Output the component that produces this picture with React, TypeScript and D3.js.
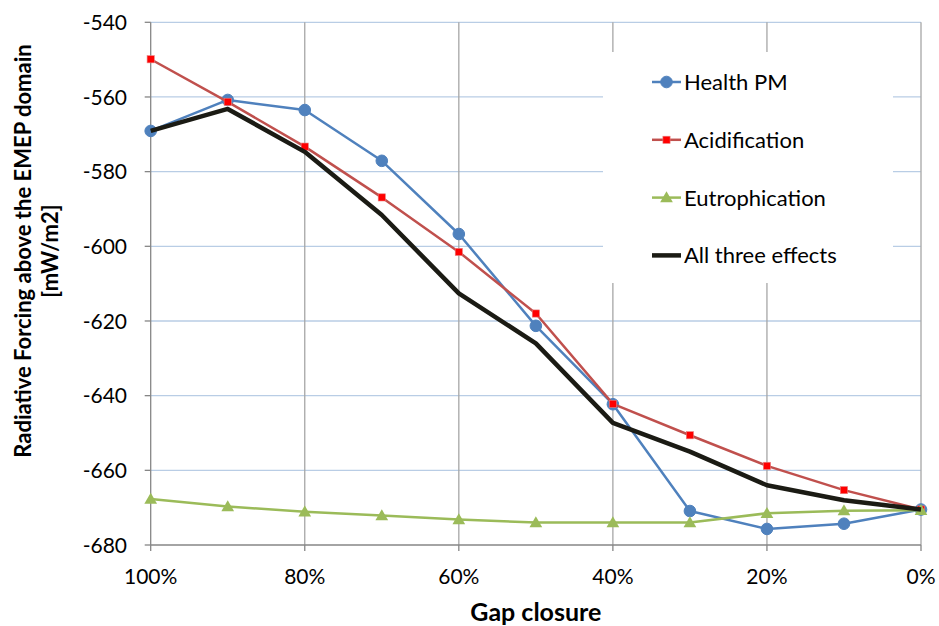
import { useEffect, useRef } from 'react';
import * as d3 from 'd3';

const gapClosure = [100, 90, 80, 70, 60, 50, 40, 30, 20, 10, 0];
const xTicks = [100, 80, 60, 40, 20, 0];
const yTicks = [-540, -560, -580, -600, -620, -640, -660, -680];

const healthPM = [-569.1, -560.8, -563.5, -577.1, -596.7, -621.3, -642.3, -670.9, -675.7, -674.3, -670.5];
const acidification = [-549.9, -561.3, -573.3, -586.9, -601.5, -618.0, -642.2, -650.6, -658.8, -665.3, -670.5];
const eutrophication = [-667.7, -669.7, -671.1, -672.1, -673.2, -674.0, -674.0, -674.0, -671.5, -670.8, -670.7];
const allThree = [-569.1, -563.2, -574.7, -591.6, -612.6, -626.0, -647.3, -655.0, -664.0, -668.0, -670.5];

const FONT = 'Lato, "Open Sans", sans-serif';

type Series = {
  name: string;
  values: number[];
  line: string;
  width: number;
  marker: 'circle' | 'square' | 'triangle' | 'none';
  markerFill: string;
};

const series: Series[] = [
  { name: 'Health PM', values: healthPM, line: '#4f81bd', width: 2.5, marker: 'circle', markerFill: '#4f81bd' },
  { name: 'Acidification', values: acidification, line: '#c0504d', width: 2.5, marker: 'square', markerFill: '#ff0000' },
  { name: 'Eutrophication', values: eutrophication, line: '#9bbb59', width: 2.5, marker: 'triangle', markerFill: '#9bbb59' },
  { name: 'All three effects', values: allThree, line: '#1b1b14', width: 4.5, marker: 'none', markerFill: '#1b1b14' },
];

export default function App() {
  const svgRef = useRef<SVGSVGElement>(null);

  useEffect(() => {
    if (!svgRef.current) return;
    const svg = d3.select(svgRef.current);
    svg.selectAll('*').remove();

    const left = 150.7, right = 921, top = 22.3, bottom = 545;

    const x = d3.scaleLinear().domain([100, 0]).range([left, right]);
    const y = d3.scaleLinear().domain([-540, -680]).range([top, bottom]);

    // horizontal gridlines
    svg.append('g')
      .selectAll('line')
      .data(yTicks.filter(t => t !== -680))
      .enter()
      .append('line')
      .attr('x1', left)
      .attr('x2', right)
      .attr('y1', d => y(d))
      .attr('y2', d => y(d))
      .attr('stroke', '#b9cde5')
      .attr('stroke-width', 1.3);

    // vertical gridlines
    svg.append('g')
      .selectAll('line')
      .data(xTicks.filter(t => t !== 100))
      .enter()
      .append('line')
      .attr('x1', d => x(d))
      .attr('x2', d => x(d))
      .attr('y1', top)
      .attr('y2', bottom)
      .attr('stroke', '#a6a6a6')
      .attr('stroke-width', 1.3);

    // axes lines
    svg.append('line')
      .attr('x1', left).attr('x2', left).attr('y1', top).attr('y2', bottom)
      .attr('stroke', '#868686').attr('stroke-width', 1.3);
    svg.append('line')
      .attr('x1', left).attr('x2', right).attr('y1', bottom).attr('y2', bottom)
      .attr('stroke', '#868686').attr('stroke-width', 1.3);

    // y ticks + labels
    const yAxis = svg.append('g');
    yTicks.forEach(t => {
      yAxis.append('line')
        .attr('x1', left - 6).attr('x2', left)
        .attr('y1', y(t)).attr('y2', y(t))
        .attr('stroke', '#868686').attr('stroke-width', 1.3);
      yAxis.append('text')
        .attr('x', 127)
        .attr('y', y(t))
        .attr('dy', '0.36em')
        .attr('text-anchor', 'end')
        .style('font-family', FONT)
        .style('font-size', '21px')
        .attr('fill', '#000')
        .text(t);
    });

    // x ticks + labels
    const xAxis = svg.append('g');
    xTicks.forEach(t => {
      xAxis.append('line')
        .attr('x1', x(t)).attr('x2', x(t))
        .attr('y1', bottom).attr('y2', bottom + 6)
        .attr('stroke', '#868686').attr('stroke-width', 1.3);
      xAxis.append('text')
        .attr('x', x(t))
        .attr('y', 584)
        .attr('text-anchor', 'middle')
        .style('font-family', FONT)
        .style('font-size', '21px')
        .attr('fill', '#000')
        .text(`${t}%`);
    });

    // axis titles
    svg.append('text')
      .attr('x', (left + right) / 2)
      .attr('y', 621)
      .attr('text-anchor', 'middle')
      .style('font-family', FONT)
      .style('font-size', '25px')
      .style('font-weight', 'bold')
      .text('Gap closure');

    const yTitle = svg.append('text')
      .attr('transform', 'translate(31,251) rotate(-90)')
      .attr('text-anchor', 'middle')
      .style('font-family', FONT)
      .style('font-size', '22px')
      .style('font-weight', 'bold');
    yTitle.append('tspan').attr('x', 0).attr('y', 0).text('Radiative Forcing above the EMEP domain');
    yTitle.append('tspan').attr('x', 0).attr('y', 27).text('[mW/m2]');

    const line = d3.line<number>()
      .x((_, i) => x(gapClosure[i]))
      .y(d => y(d));

    const triangle = d3.symbol().type(d3.symbolTriangle).size(70);

    const drawMarker = (g: d3.Selection<SVGGElement, unknown, null, undefined>, s: Series, cx: number, cy: number, scale = 1) => {
      if (s.marker === 'circle') {
        g.append('circle').attr('cx', cx).attr('cy', cy).attr('r', 5.8 * scale)
          .attr('fill', s.markerFill).attr('stroke', s.line).attr('stroke-width', 1);
      } else if (s.marker === 'square') {
        const h = 3.6 * scale;
        g.append('rect').attr('x', cx - h).attr('y', cy - h).attr('width', 2 * h).attr('height', 2 * h)
          .attr('fill', s.markerFill).attr('stroke', '#e88080').attr('stroke-width', 0.6);
      } else if (s.marker === 'triangle') {
        g.append('path').attr('transform', `translate(${cx},${cy + 1}) scale(${scale})`)
          .attr('d', triangle()!)
          .attr('fill', s.markerFill);
      }
    };

    series.forEach(s => {
      const g = svg.append('g');
      g.append('path')
        .datum(s.values)
        .attr('fill', 'none')
        .attr('stroke', s.line)
        .attr('stroke-width', s.width)
        .attr('stroke-linejoin', 'round')
        .attr('d', line);
      s.values.forEach((v, i) => drawMarker(g, s, x(gapClosure[i]), y(v)));
    });

    // legend
    const legend = svg.append('g');
    legend.append('rect')
      .attr('x', 603).attr('y', 52).attr('width', 290).attr('height', 231)
      .attr('fill', '#fff');
    series.forEach((s, i) => {
      const cy = 82 + i * 57.8;
      legend.append('line')
        .attr('x1', 652).attr('x2', 681).attr('y1', cy).attr('y2', cy)
        .attr('stroke', s.line).attr('stroke-width', s.width);
      drawMarker(legend, s, 666.5, cy);
      legend.append('text')
        .attr('x', 684)
        .attr('y', cy)
        .attr('dy', '0.36em')
        .style('font-family', FONT)
        .style('font-size', '22px')
        .attr('fill', '#000')
        .text(s.name);
    });
  }, []);

  return (
    <div style={{ position: 'fixed', left: 0, top: 0, background: '#fff' }}>
      <svg ref={svgRef} width={939} height={626}></svg>
    </div>
  );
}
